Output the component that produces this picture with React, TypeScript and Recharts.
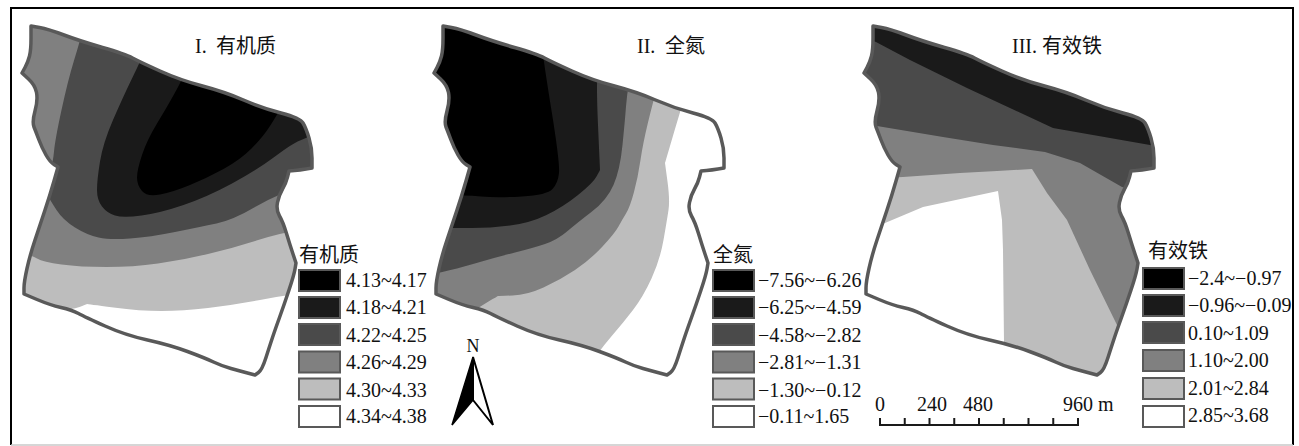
import { ReferenceArea, Scatter, ScatterChart, XAxis, YAxis } from 'recharts';

type Pt = [number, number];

const WIDTH = 1299;
const HEIGHT = 446;
const SERIF = '"Liberation Serif", "Noto Sans CJK SC", serif';
const CJK = '"Noto Sans CJK SC", "Liberation Serif", serif';

const shades = ['#000000', '#1a1a1a', '#4a4a4a', '#808080', '#bdbdbd', '#ffffff'];

// field boundary, the same in every panel (a repeated point keeps a sharp corner)
const fieldOutline: Pt[] = [
  [31, 26], [31, 26], [48, 29], [80, 41], [125, 54], [140, 62], [180, 80], [225, 92], [262, 108], [300, 118],
  [306, 128], [312, 148], [312, 168], [312, 168], [300, 170], [289, 171], [289, 171], [286, 183], [279, 195], [276, 210],
  [283, 222], [290, 245], [296, 263], [296, 263], [294, 275], [284, 305], [275, 330], [270, 345], [262, 370],
  [255, 375], [255, 375], [240, 371], [222, 366], [205, 358], [170, 345], [125, 335], [85, 317], [72, 310],
  [50, 305], [24, 294], [24, 294], [24, 282], [30, 255], [40, 225], [50, 195], [58, 167], [58, 167], [50, 162], [42, 148],
  [36, 132], [32, 122], [38, 100], [35, 85], [22, 73], [22, 73], [28, 62], [31, 50],
];

// zones of each panel, painted from the lightest to the darkest
const organicZones: { shade: number; pts: Pt[] }[] = [
  { shade: 4, pts: [[0, 0], [0, 0], [330, 0], [330, 0], [330, 290], [287, 295], [233, 305], [183, 311], [140, 311], [87, 304], [87, 304], [72, 310], [40, 310], [0, 310]] },
  { shade: 3, pts: [[0, 0], [0, 0], [330, 0], [330, 0], [330, 225], [280, 233], [233, 248], [183, 260], [133, 267], [80, 267], [43, 262], [31, 255], [0, 250]] },
  { shade: 2, pts: [[85, 20], [85, 20], [330, 20], [330, 20], [330, 180], [279, 193], [233, 220], [200, 227], [150, 237], [110, 240], [87, 235], [63, 220], [50, 200], [45, 190], [53, 163], [55, 140], [68, 80], [80, 41]] },
  { shade: 1, pts: [[145, 50], [145, 50], [330, 50], [330, 50], [330, 125], [307, 138], [293, 143], [257, 170], [207, 197], [160, 213], [123, 218], [107, 213], [97, 200], [97, 180], [103, 143], [123, 97], [140, 62]] },
  { shade: 0, pts: [[190, 60], [190, 60], [285, 100], [285, 100], [277, 115], [263, 137], [240, 160], [207, 178], [173, 192], [147, 197], [137, 185], [137, 170], [147, 140], [167, 107], [182, 80]] },
];

const nitrogenZones: { shade: number; pts: Pt[] }[] = [
  { shade: 4, pts: [[275, 90], [268, 112], [253, 163], [253, 163], [258, 200], [255, 220], [248, 260], [231, 297], [211, 323], [186, 352], [170, 380], [0, 380], [0, 380], [0, 0], [0, 0], [275, 0], [275, 0]] },
  { shade: 3, pts: [[250, 70], [241, 102], [231, 143], [226, 177], [218, 207], [210, 220], [203, 233], [178, 260], [148, 280], [115, 295], [86, 296], [86, 296], [67, 307], [50, 320], [0, 320], [0, 320], [0, 0], [0, 0], [250, 0], [250, 0]] },
  { shade: 2, pts: [[220, 70], [215, 93], [213, 120], [208, 170], [195, 200], [165, 223], [145, 240], [121, 248], [85, 257], [51, 267], [26, 273], [0, 280], [0, 280], [0, 0], [0, 0], [220, 0], [220, 0]] },
  { shade: 1, pts: [[188, 60], [184, 80], [188, 170], [188, 170], [181, 183], [151, 207], [118, 223], [78, 228], [41, 228], [0, 228], [0, 228], [0, 0], [0, 0], [188, 0], [188, 0]] },
  { shade: 0, pts: [[130, 40], [131, 58], [148, 163], [146, 183], [135, 195], [85, 198], [53, 195], [0, 195], [0, 195], [0, 0], [0, 0], [130, 0], [130, 0]] },
];

const ironZones: { shade: number; pts: Pt[] }[] = [
  { shade: 4, pts: [[0, 0], [330, 0], [330, 400], [0, 400]] },
  { shade: 5, pts: [[43, 223], [81, 207], [156, 191], [160, 220], [161, 250], [162, 342], [162, 400], [0, 400], [0, 235]] },
  { shade: 3, pts: [[0, 0], [330, 0], [330, 370], [290, 355], [275, 325], [248, 270], [225, 220], [205, 193], [190, 169], [155, 171], [118, 173], [61, 177], [0, 180]] },
  { shade: 2, pts: [[0, 0], [330, 0], [330, 200], [280, 187], [238, 163], [203, 152], [151, 145], [101, 137], [35, 126], [0, 120]] },
  { shade: 1, pts: [[0, 0], [330, 0], [330, 150], [308, 145], [211, 128], [125, 88], [68, 60], [34, 42], [0, 30]] },
];

const organicLabels = ['4.13~4.17', '4.18~4.21', '4.22~4.25', '4.26~4.29', '4.30~4.33', '4.34~4.38'];
const nitrogenLabels = ['−7.56~−6.26', '−6.25~−4.59', '−4.58~−2.82', '−2.81~−1.31', '−1.30~−0.12', '−0.11~1.65'];
const ironLabels = ['−2.4~−0.97', '−0.96~−0.09', '0.10~1.09', '1.10~2.00', '2.01~2.84', '2.85~3.68'];

const scaleTicksMetres = [0, 120, 240, 360, 480, 600, 720, 840, 960];
const scaleLabels = ['0', '240', '480', '960 m'];

const northLeft: Pt[] = [[473, 357], [473, 400], [452, 425]];
const northRight: Pt[] = [[473, 357], [473, 400], [493, 425]];

const panels = [
  { id: 'organic', dx: 0, numeral: 'I.', numeralX: 195, title: '有机质', titleX: 216, zones: organicZones, smooth: true, legend: '有机质', labels: organicLabels, swatchX: 299, labelX: 346, legendX: 299, legendY: 262, tops: [270, 297, 324, 351.5, 378.5, 406], bases: [287, 314, 342, 369, 397, 423] },
  { id: 'nitrogen', dx: 412, numeral: 'II.', numeralX: 637, title: '全氮', titleX: 665, zones: nitrogenZones, smooth: true, legend: '全氮', labels: nitrogenLabels, swatchX: 713, labelX: 758, legendX: 713, legendY: 262, tops: [270, 297, 324, 351.5, 378.5, 406], bases: [287, 314, 342, 369, 397, 423] },
  { id: 'iron', dx: 842, numeral: 'III.', numeralX: 1012, title: '有效铁', titleX: 1042, zones: ironZones, smooth: false, legend: '有效铁', labels: ironLabels, swatchX: 1143, labelX: 1188, legendX: 1148, legendY: 258, tops: [268, 295, 322, 350, 378, 406], bases: [285, 312, 340, 367, 395, 422] },
];

const toData = (pts: Pt[], dx = 0) => pts.map(([x, y]) => ({ x: x + dx, y }));

const px = (p: any) => p.cx ?? p.x;
const py = (p: any) => p.cy ?? p.y;

const toPath = (points: any[], close = true) =>
  points.map((p, i) => `${i ? 'L' : 'M'}${px(p)},${py(p)}`).join('') + (close ? 'Z' : '');

// closed curve through the midpoints of the sides
const toSmoothPath = (points: any[]) => {
  const mid = (a: any, b: any) => `${(px(a) + px(b)) / 2},${(py(a) + py(b)) / 2}`;
  const n = points.length;
  let d = `M${mid(points[n - 1], points[0])}`;
  points.forEach((p, i) => {
    d += `Q${px(p)},${py(p)} ${mid(p, points[(i + 1) % n])}`;
  });
  return `${d}Z`;
};

const noDot = () => null;

// one polygon or polyline, placed by the chart's scales
function polySeries(key: string, pts: Pt[], dx: number, style: any, close = true, smooth = false) {
  return (
    <Scatter
      key={key}
      data={toData(pts, dx)}
      isAnimationActive={false}
      shape={noDot}
      line={(props: any) => <path d={smooth ? toSmoothPath(props.points) : toPath(props.points, close)} {...style} />}
    />
  );
}

function clipSeries(id: string, pts: Pt[], dx: number) {
  return (
    <Scatter
      key={`clip-${id}`}
      data={toData(pts, dx)}
      isAnimationActive={false}
      shape={noDot}
      line={(props: any) => (
        <clipPath id={`clip-${id}`}>
          <path d={toSmoothPath(props.points)} />
        </clipPath>
      )}
    />
  );
}

const scaleX = (m: number) => 880 + (m * 198) / 960;
const scalePath: Pt[] = scaleTicksMetres.flatMap((m): Pt[] => [[scaleX(m), 425], [scaleX(m), 418], [scaleX(m), 425]]);
const scaleLabelX = [880, 932, 978, 1063];

export default function App() {
  return (
    <div style={{ position: 'absolute', left: 0, top: 0, width: WIDTH, height: HEIGHT, background: '#fff' }}>
      <ScatterChart width={WIDTH} height={HEIGHT} margin={{ top: 0, right: 0, bottom: 0, left: 0 }}>
        <XAxis type="number" dataKey="x" domain={[0, WIDTH]} hide />
        <YAxis type="number" dataKey="y" domain={[0, HEIGHT]} reversed hide />

        {polySeries('frame', [[11, 445], [11, 8], [1293, 8], [1293, 445]], 0, { fill: 'none', stroke: '#000', strokeWidth: 2 }, false)}
        {polySeries('frame-bottom', [[11, 445], [1293, 445]], 0, { fill: 'none', stroke: '#c8c8c8', strokeWidth: 1.5 }, false)}

        {panels.map((panel) => clipSeries(panel.id, fieldOutline, panel.dx))}
        {panels.flatMap((panel) => [
          polySeries(`${panel.id}-base`, fieldOutline, panel.dx, { fill: '#fff', stroke: 'none' }, true, true),
          ...panel.zones.map((zone, i) =>
            polySeries(
              `${panel.id}-zone-${i}`,
              zone.pts,
              panel.dx,
              { fill: shades[zone.shade], stroke: 'none', clipPath: `url(#clip-${panel.id})` },
              true,
              panel.smooth,
            ),
          ),
          polySeries(
            `${panel.id}-outline`,
            fieldOutline,
            panel.dx,
            { fill: 'none', stroke: '#595959', strokeWidth: 3.5, strokeLinejoin: 'round' },
            true,
            true,
          ),
        ])}

        {panels.flatMap((panel) =>
          panel.labels.map((_, i) => (
            <ReferenceArea
              key={`${panel.id}-swatch-${i}`}
              x1={panel.swatchX}
              x2={panel.swatchX + 41}
              y1={panel.tops[i]}
              y2={panel.tops[i] + 21}
              fill={shades[i]}
              fillOpacity={1}
              stroke="#595959"
              strokeWidth={2}
            />
          )),
        )}

        {polySeries('north-left', northLeft, 0, { fill: '#000', stroke: '#000', strokeWidth: 1.5, strokeLinejoin: 'miter' })}
        {polySeries('north-right', northRight, 0, { fill: '#fff', stroke: '#000', strokeWidth: 2, strokeLinejoin: 'miter' })}
        {polySeries('scale-bar', scalePath, 0, { fill: 'none', stroke: '#1a1a1a', strokeWidth: 2 }, false)}

        {panels.map((panel) => (
          <g key={`${panel.id}-text`} fill="#111">
            <text x={panel.numeralX} y={53} fontFamily={SERIF} fontSize={20}>{panel.numeral}</text>
            <text x={panel.titleX} y={53} fontFamily={CJK} fontSize={20}>{panel.title}</text>
            <text x={panel.legendX} y={panel.legendY} fontFamily={CJK} fontSize={20}>{panel.legend}</text>
            {panel.labels.map((label, i) => (
              <text key={label} x={panel.labelX} y={panel.bases[i]} fontFamily={SERIF} fontSize={20}>{label}</text>
            ))}
          </g>
        ))}

        <text x={473} y={352} textAnchor="middle" fontFamily={SERIF} fontSize={18} fill="#111">N</text>
        {scaleLabels.map((label, i) => (
          <text key={label} x={scaleLabelX[i]} y={411} textAnchor={i === 3 ? 'start' : 'middle'} fontFamily={SERIF} fontSize={20} fill="#111">
            {label}
          </text>
        ))}
      </ScatterChart>
    </div>
  );
}
